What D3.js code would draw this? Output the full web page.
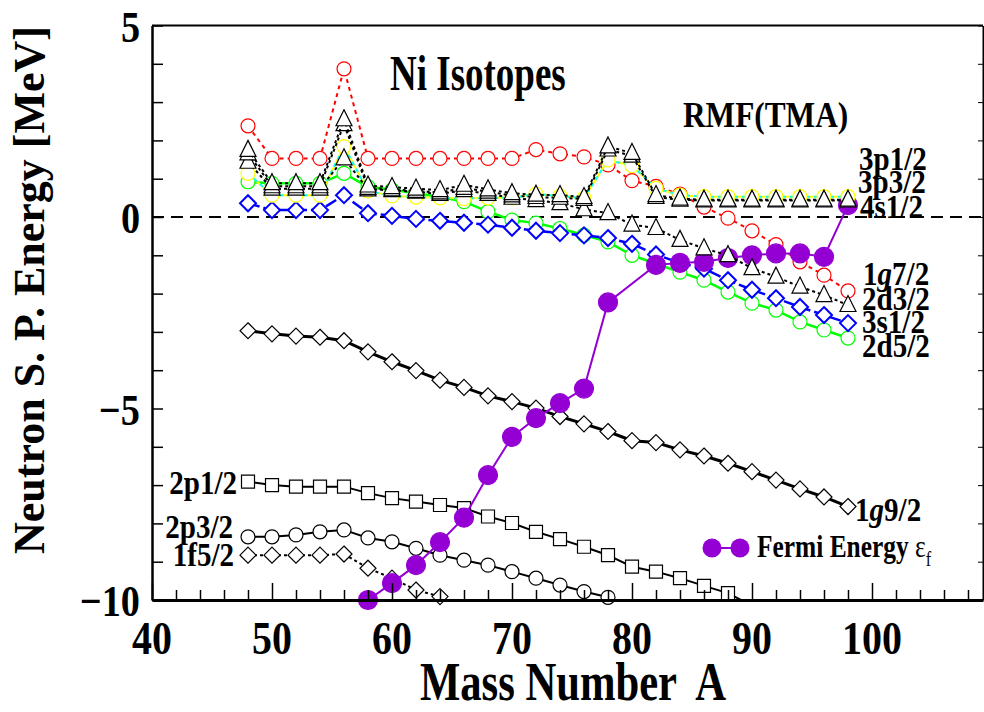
<!DOCTYPE html>
<html><head><meta charset="utf-8">
<script src="https://cdn.jsdelivr.net/npm/d3@7"></script>
<style>
html,body{margin:0;padding:0;background:#fff;}
text{font-family:"Liberation Serif","Times New Roman",serif;font-weight:bold;}
</style></head>
<body><svg id="c" width="984" height="712"></svg>
<script>
// ---------- DATA ----------
const massNumbers = [48,50,52,54,56,58,60,62,64,66,68,70,72,74,76,78,80,82,84,86,88,90,92,94,96,98];
const level1g72 = [2.38,1.53,1.53,1.53,3.87,1.53,1.53,1.53,1.53,1.53,1.53,1.53,1.76,1.65,1.57,1.36,0.95,0.80,0.60,0.26,-0.03,-0.36,-0.72,-1.17,-1.52,-1.93];
const level3p12 = [1.75,0.88,0.88,0.88,2.55,0.82,0.78,0.74,0.70,0.84,0.72,0.62,0.58,0.57,0.52,1.84,1.67,0.57,0.48,0.45,0.45,0.45,0.45,0.45,0.45,0.45];
const level3p32 = [1.66,0.80,0.80,0.80,2.42,0.76,0.72,0.68,0.64,0.76,0.66,0.56,0.52,0.50,0.47,1.76,1.60,0.52,0.45,0.43,0.43,0.43,0.43,0.43,0.43,0.43];
const level4s12 = [1.14,0.57,0.57,0.57,1.84,0.68,0.55,0.52,0.50,0.48,0.50,0.50,0.60,0.55,0.49,1.49,1.34,0.75,0.57,0.53,0.53,0.53,0.53,0.53,0.53,0.53];
const level2d32 = [1.44,0.74,0.74,0.74,1.53,0.72,0.70,0.66,0.60,0.70,0.60,0.50,0.44,0.36,0.20,0.10,-0.20,-0.29,-0.60,-0.82,-1.00,-1.34,-1.56,-1.82,-2.04,-2.30];
const level3s12 = [0.36,0.18,0.18,0.18,0.57,0.10,0.03,-0.05,-0.10,-0.15,-0.20,-0.28,-0.36,-0.42,-0.48,-0.55,-0.70,-0.98,-1.20,-1.35,-1.65,-1.90,-2.12,-2.35,-2.56,-2.77];
const level2d52 = [0.92,0.88,0.88,0.88,1.14,0.79,0.71,0.62,0.53,0.40,0.14,-0.08,-0.16,-0.30,-0.47,-0.65,-1.00,-1.22,-1.44,-1.65,-1.96,-2.25,-2.43,-2.74,-2.95,-3.16];
const level1g92 = [-2.97,-3.05,-3.11,-3.14,-3.23,-3.52,-3.78,-4.01,-4.26,-4.45,-4.67,-4.82,-4.99,-5.21,-5.40,-5.60,-5.84,-5.89,-6.08,-6.24,-6.43,-6.65,-6.87,-7.10,-7.31,-7.56];
const mass2p12 = [48,50,52,54,56,58,60,62,64,66,68,70,72,74,76,78,80,82,84,86,88,90];
const level2p12 = [-6.91,-7.00,-7.04,-7.04,-7.04,-7.21,-7.34,-7.43,-7.52,-7.60,-7.82,-7.99,-8.22,-8.41,-8.61,-8.83,-9.13,-9.26,-9.43,-9.63,-9.82,-10.15];
const mass2p32 = [48,50,52,54,56,58,60,62,64,66,68,70,72,74,76,78];
const level2p32 = [-8.35,-8.35,-8.30,-8.22,-8.17,-8.38,-8.48,-8.65,-8.83,-8.96,-9.09,-9.26,-9.43,-9.61,-9.78,-9.93];
const mass1f52 = [48,50,52,54,56,58,60,62,64];
const level1f52 = [-8.83,-8.83,-8.83,-8.83,-8.80,-9.17,-9.43,-9.74,-9.91];
const massFermi = [58,60,62,64,66,68,70,72,74,76,78,82,84,86,88,90,92,94,96,98];
const fermiEnergy = [-10.0,-9.56,-9.09,-8.49,-7.85,-6.74,-5.74,-5.25,-4.86,-4.48,-2.23,-1.25,-1.20,-1.17,-1.07,-1.00,-0.95,-0.95,-1.04,0.31];
const xTickLabels = [40,50,60,70,80,90,100];
const yTickLabels = [5,0,-5,-10];

// ---------- LAYOUT ----------
const svg = d3.select("#c");
const L = 152, R = 983, T = 25.5, B = 600;
const x = d3.scaleLinear().domain([40, 109.25]).range([L, R]);
const y = d3.scaleLinear().domain([-10, 5]).range([B, T]);

svg.append("defs").append("clipPath").attr("id","clip")
  .append("rect").attr("x",L).attr("y",T).attr("width",R-L).attr("height",B-T);

// zero line
svg.append("line").attr("x1",L).attr("x2",R).attr("y1",y(0)).attr("y2",y(0))
  .attr("stroke","#000").attr("stroke-width",2).attr("stroke-dasharray","12,7");

// marker shapes
function shape(type, cx, cy){
  if(type==="circle"){ const r=7; return `M${cx+r},${cy}A${r},${r} 0 1,1 ${cx-r},${cy}A${r},${r} 0 1,1 ${cx+r},${cy}Z`; }
  if(type==="fill"){ const r=9.5; return `M${cx+r},${cy}A${r},${r} 0 1,1 ${cx-r},${cy}A${r},${r} 0 1,1 ${cx+r},${cy}Z`; }
  if(type==="triangle"){ const h=16, w=16; return `M${cx},${cy-h*0.6}L${cx+w/2},${cy+h*0.4}L${cx-w/2},${cy+h*0.4}Z`; }
  if(type==="diamond"){ const s=8; return `M${cx},${cy-s}L${cx+s},${cy}L${cx},${cy+s}L${cx-s},${cy}Z`; }
  if(type==="square"){ const s=6.5; return `M${cx-s},${cy-s}H${cx+s}V${cy+s}H${cx-s}Z`; }
}
const lineGen = d3.line().x(d=>x(d[0])).y(d=>y(d[1]));

function series(masses, vals, o){
  const pts = masses.map((m,i)=>[m, vals[i]]);
  const g = svg.append("g");
  (o.lines||[]).forEach(ls=>{
    g.append("path").attr("d", lineGen(pts)).attr("fill","none")
      .attr("stroke", ls.color).attr("stroke-width", ls.width)
      .attr("stroke-dasharray", ls.dash||null).attr("clip-path","url(#clip)");
  });
  g.selectAll("path.m").data(pts.filter(p=>p[1]>=-10.05)).enter().append("path")
    .attr("class","m")
    .attr("d", p=> shape(o.marker, x(p[0]), y(p[1])))
    .attr("fill", o.fill).attr("stroke", o.stroke).attr("stroke-width", o.sw||1.2);
}

// lower group
series(massNumbers, level1g92, {marker:"diamond", fill:"#fff", stroke:"#000", lines:[{color:"#000",width:3}]});
series(mass2p12, level2p12, {marker:"square", fill:"#fff", stroke:"#000", lines:[{color:"#000",width:2}]});
series(mass2p32, level2p32, {marker:"circle", fill:"#fff", stroke:"#000", lines:[{color:"#000",width:2}]});
series(mass1f52, level1f52, {marker:"diamond", fill:"#fff", stroke:"#000", lines:[{color:"#000",width:2,dash:"3,3"}]});
// upper group
series(massNumbers, level2d52, {marker:"circle", fill:"#fff", stroke:"#00ff00", lines:[{color:"#00ff00",width:2.5}]});
series(massNumbers, level3s12, {marker:"diamond", fill:"#fff", stroke:"#0000ff", sw:2, lines:[{color:"#0000ff",width:2.5,dash:"12,4"}]});
series(massNumbers, level1g72, {marker:"circle", fill:"#fff", stroke:"#ff0000", lines:[{color:"#ff0000",width:2,dash:"4,4"}]});
series(massFermi, fermiEnergy, {marker:"fill", fill:"#9400d3", stroke:"#9400d3", lines:[{color:"#9400d3",width:2}]});
series(massNumbers, level4s12, {marker:"circle", fill:"#fff", stroke:"#ffff00", lines:[{color:"#ffff00",width:2},{color:"#00ffff",width:2,dash:"4,4"}]});
series(massNumbers, level2d32, {marker:"triangle", fill:"#fff", stroke:"#000", lines:[{color:"#000",width:2,dash:"3,3"}]});
series(massNumbers, level3p32, {marker:"triangle", fill:"#fff", stroke:"#000", lines:[{color:"#000",width:2,dash:"3,3"}]});
series(massNumbers, level3p12, {marker:"triangle", fill:"#fff", stroke:"#000", lines:[{color:"#000",width:2,dash:"3,3"}]});

// ---------- TEXT HELPER (condensed serif) ----------
function label(parent, tx, ty, str, size, sx, anchor){
  return parent.append("text")
    .attr("transform", `translate(${tx},${ty}) scale(${sx},1)`)
    .attr("font-size", size).attr("text-anchor", anchor||"start").text(str);
}

// ---------- AXES ----------
const yAxis = d3.axisLeft(y).tickValues(d3.range(-10,6,1)).tickSize(-11).tickSizeOuter(0).tickFormat("");
const gy = svg.append("g").attr("transform",`translate(${L},0)`).call(yAxis);
gy.select(".domain").attr("stroke-width",2.5);
gy.selectAll(".tick line").attr("stroke-width",1.5);
yTickLabels.forEach(v=> label(svg, 140, y(v)+16, d3.format("")(v), 45, 0.85, "end"));

const xAxis = d3.axisBottom(x).tickValues(d3.range(40,110,2)).tickSize(-10).tickSizeOuter(0).tickFormat("");
const gx = svg.append("g").attr("transform",`translate(0,${B})`).call(xAxis);
gx.select(".domain").attr("stroke-width",3);
gx.selectAll(".tick line").attr("stroke-width",1.5).attr("y2", d=> d%10===0 ? -17 : -10);
xTickLabels.forEach(v=> label(svg, x(v), 654, String(v), 47, 0.85, "middle"));

const rAxis = d3.axisRight(y).tickValues(d3.range(-10,6,1)).tickSize(-5).tickSizeOuter(0).tickFormat("");
const gr = svg.append("g").attr("transform",`translate(${R},0)`).call(rAxis);
gr.select(".domain").attr("stroke-width",2);
svg.append("line").attr("x1",L).attr("x2",R).attr("y1",T).attr("y2",T).attr("stroke","#000").attr("stroke-width",2);

// ---------- TEXT ----------
svg.append("text").attr("transform",`translate(44,${290}) rotate(-90)`).attr("text-anchor","middle")
  .attr("font-size",44).text("Neutron S. P. Energy [MeV]");
label(svg, 573, 700, "Mass Number  A", 54, 0.79, "middle").attr("style","white-space:pre");
label(svg, 390, 90, "Ni Isotopes", 50, 0.74);
label(svg, 683, 127, "RMF(TMA)", 36, 0.87);

const rightLabels = [["3p1/2",859,170],["3p3/2",858,193],["4s1/2",860,218],["1g7/2",863,285],["2d3/2",862,310],["3s1/2",862,333],["2d5/2",862,357],["1g9/2",855,521]];
rightLabels.forEach(([t,lx,ly])=>{
  const tx = label(svg, lx, ly, "", 33, 0.88);
  if(t[1]==="g"){ tx.append("tspan").text(t[0]); tx.append("tspan").attr("font-style","italic").text("g"); tx.append("tspan").text(t.slice(2)); }
  else tx.text(t);
});
const leftLabels = [["2p1/2",237,494],["2p3/2",233,538],["1f5/2",234,566]];
leftLabels.forEach(([t,lx,ly])=> label(svg, lx, ly, t, 33, 0.88, "end"));

// legend
const lg = svg.append("g");
lg.append("line").attr("x1",712).attr("x2",740).attr("y1",548).attr("y2",548).attr("stroke","#9400d3").attr("stroke-width",2);
[712,740].forEach(cx=> lg.append("circle").attr("cx",cx).attr("cy",548).attr("r",9.5).attr("fill","#9400d3"));
const lt = label(lg, 757, 557, "", 31, 0.82);
lt.append("tspan").text("Fermi Energy ");
lt.append("tspan").attr("font-weight","normal").text("ε");
lt.append("tspan").attr("font-weight","normal").attr("font-size",20).attr("dy",9).text("f");
</script></body></html>
